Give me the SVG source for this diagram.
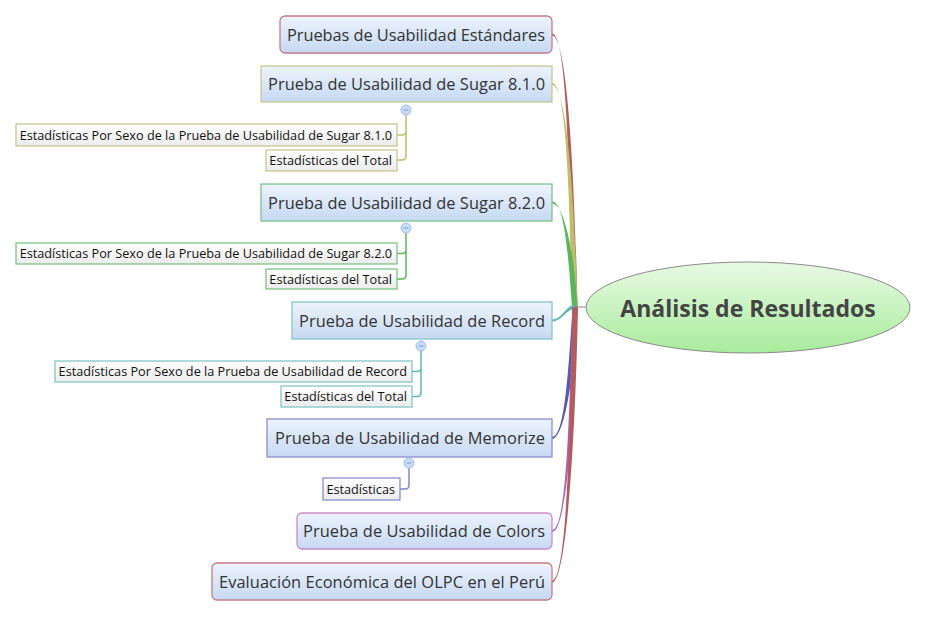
<svg xmlns="http://www.w3.org/2000/svg" width="927" height="617" viewBox="0 0 927 617">
<defs>
<linearGradient id="gMain" x1="0" y1="0" x2="0" y2="1"><stop offset="0" stop-color="#edf3fc"/><stop offset="1" stop-color="#c6d9f2"/></linearGradient>
<linearGradient id="gSub" x1="0" y1="0" x2="0" y2="1"><stop offset="0" stop-color="#ffffff"/><stop offset="1" stop-color="#ececec"/></linearGradient>
<linearGradient id="gCenter" x1="0" y1="0" x2="0" y2="1"><stop offset="0" stop-color="#e8f9e4"/><stop offset="1" stop-color="#a8ec9c"/></linearGradient>
<style>
.main{fill:url(#gMain);stroke-width:1.3}
.sub{fill:url(#gSub);stroke-width:1.3}
.mt{font-family:"Open Sans","Noto Sans",sans-serif;font-size:16.4px;fill:#333;text-anchor:end}
.st{font-family:"Open Sans","Noto Sans",sans-serif;font-size:12.7px;fill:#111;text-anchor:end}
.ct{font-family:"Open Sans","Noto Sans",sans-serif;font-size:23px;font-weight:bold;fill:#444;text-anchor:middle}
.tog{fill:#c9dcf7;stroke:#9fbde8;stroke-width:1}
.togm{stroke:#7f9fd0;stroke-width:1}
.br{fill:none;stroke-width:1.5}
</style>
</defs>
<g id="connectors">
<path d="M552,33.5 C566,33.5 569,150 572.5,307 L577.5,307 C574,150 566,35.5 552,35.5 Z" fill="#b35c5c"/>
<path d="M552,83 C566,83 569,180 572.5,307 L577.5,307 C574,180 566,85 552,85 Z" fill="#bdbd6a"/>
<path d="M552,201.5 C564,201.5 568,250 572,307 L577.5,307 C574,250 564,203.5 552,203.5 Z" fill="#5bb55b"/>
<path d="M552,319.5 C562,319.5 566,305 575,305 L575,309 C566,309 562,321.5 552,321.5 Z" fill="#5fb5b5"/>
<path d="M552,437 C564,437 568,380 572.5,307 L577.5,307 C574,380 564,439 552,439 Z" fill="#5858b0"/>
<path d="M552,530 C566,530 569,430 572.5,307 L577.5,307 C574,430 566,532 552,532 Z" fill="#b060b8"/>
<path d="M552,580.5 C566,580.5 570,450 572.5,307 L578,307 C575,450 566,582.5 552,582.5 Z" fill="#b35c5c"/>
<line x1="575" y1="307" x2="587" y2="307" stroke="#888" stroke-width="1"/>
<path class="br" stroke="#bdbd6a" d="M406,115 V131 Q406,135 402,135 H397 M406,131 V156 Q406,160 402,160 H397"/>
<path class="br" stroke="#5bb55b" d="M406,233 V249.5 Q406,253.5 402,253.5 H397 M406,249 V275 Q406,279 402,279 H397"/>
<path class="br" stroke="#5fb5b5" d="M421,351 V367.5 Q421,371.5 417,371.5 H412 M421,367 V392.5 Q421,396.5 417,396.5 H412"/>
<path class="br" stroke="#8888c8" d="M409,468 V485 Q409,489 405,489 H400"/>
</g>
<g id="center">
<ellipse cx="748" cy="307.5" rx="162" ry="45.5" fill="url(#gCenter)" stroke="#8a8a8a" stroke-width="1"/>
<text class="ct" x="748" y="316.5">Análisis de Resultados</text>
</g>
<g id="n1">
<rect class="main" x="280" y="16" width="272" height="37" rx="5" stroke="#c77b84"/>
<text class="mt" x="545" y="40.5" textLength="258">Pruebas de Usabilidad Estándares</text>
</g>
<g id="n2">
<rect class="main" x="261" y="66" width="291" height="36" stroke="#c8c890"/>
<text class="mt" x="545" y="90" textLength="277">Prueba de Usabilidad de Sugar 8.1.0</text>
<circle class="tog" cx="406" cy="110" r="5"/><line class="togm" x1="403.5" y1="110" x2="408.5" y2="110"/>
</g>
<g id="n2a">
<rect class="sub" x="16" y="124" width="381" height="22" stroke="#c8c890"/>
<text class="st" x="392" y="139.5">Estadísticas Por Sexo de la Prueba de Usabilidad de Sugar 8.1.0</text>
</g>
<g id="n2b">
<rect class="sub" x="266" y="150" width="131" height="21" stroke="#c8c890"/>
<text class="st" x="392" y="165">Estadísticas del Total</text>
</g>
<g id="n3">
<rect class="main" x="261" y="184" width="291" height="37" stroke="#7cc48a"/>
<text class="mt" x="545" y="208.5" textLength="277">Prueba de Usabilidad de Sugar 8.2.0</text>
<circle class="tog" cx="406" cy="228" r="5"/><line class="togm" x1="403.5" y1="228" x2="408.5" y2="228"/>
</g>
<g id="n3a">
<rect class="sub" x="16" y="243" width="381" height="21" stroke="#7cc48a"/>
<text class="st" x="392" y="258">Estadísticas Por Sexo de la Prueba de Usabilidad de Sugar 8.2.0</text>
</g>
<g id="n3b">
<rect class="sub" x="266" y="269" width="131" height="20" stroke="#7cc48a"/>
<text class="st" x="392" y="283.5">Estadísticas del Total</text>
</g>
<g id="n4">
<rect class="main" x="292" y="302" width="260" height="37" stroke="#85c6c8"/>
<text class="mt" x="545" y="326.5" textLength="246">Prueba de Usabilidad de Record</text>
<circle class="tog" cx="421" cy="346" r="5"/><line class="togm" x1="418.5" y1="346" x2="423.5" y2="346"/>
</g>
<g id="n4a">
<rect class="sub" x="55" y="361" width="357" height="21" stroke="#85c6c8"/>
<text class="st" x="407" y="376">Estadísticas Por Sexo de la Prueba de Usabilidad de Record</text>
</g>
<g id="n4b">
<rect class="sub" x="281" y="386" width="131" height="21" stroke="#85c6c8"/>
<text class="st" x="407" y="401">Estadísticas del Total</text>
</g>
<g id="n5">
<rect class="main" x="267" y="419" width="285" height="38" stroke="#8d8dcc"/>
<text class="mt" x="545" y="444" textLength="270">Prueba de Usabilidad de Memorize</text>
<circle class="tog" cx="409" cy="463" r="5"/><line class="togm" x1="406.5" y1="463" x2="411.5" y2="463"/>
</g>
<g id="n5a">
<rect class="sub" x="323" y="478" width="77" height="22" stroke="#8d8dcc"/>
<text class="st" x="395" y="493.5">Estadísticas</text>
</g>
<g id="n6">
<rect class="main" x="297" y="513" width="255" height="36" rx="5" stroke="#c88ccc"/>
<text class="mt" x="545" y="537" textLength="242">Prueba de Usabilidad de Colors</text>
</g>
<g id="n7">
<rect class="main" x="212" y="563" width="340" height="37" rx="5" stroke="#c77b84"/>
<text class="mt" x="545" y="587.5" textLength="326">Evaluación Económica del OLPC en el Perú</text>
</g>
</svg>
